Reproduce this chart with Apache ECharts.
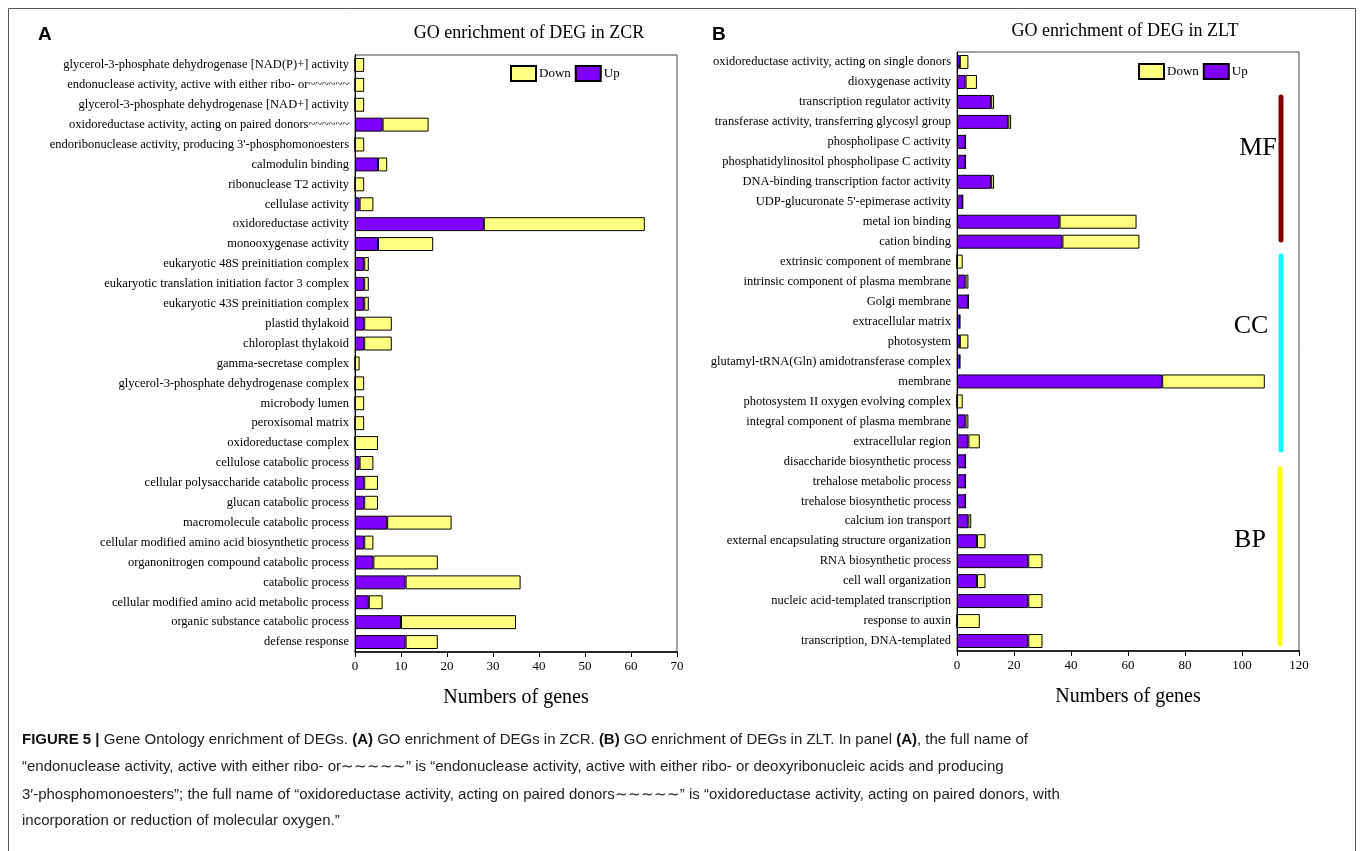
<!DOCTYPE html>
<html>
<head>
<meta charset="utf-8">
<script src="https://cdn.jsdelivr.net/npm/echarts@6/dist/echarts.min.js"></script>
<style>
html,body{margin:0;padding:0;background:#fff;}
#c{width:1360px;height:851px;}
</style>
</head>
<body>
<div id="c"></div>
<script>
// ---- Panel A: GO enrichment of DEG in ZCR ----
const catsA = [
  'glycerol-3-phosphate dehydrogenase [NAD(P)+] activity',
  'endonuclease activity, active with either ribo- or~~~~~~',
  'glycerol-3-phosphate dehydrogenase [NAD+] activity',
  'oxidoreductase activity, acting on paired donors~~~~~~',
  "endoribonuclease activity, producing 3'-phosphomonoesters",
  'calmodulin binding',
  'ribonuclease T2 activity',
  'cellulase activity',
  'oxidoreductase activity',
  'monooxygenase activity',
  'eukaryotic 48S preinitiation complex',
  'eukaryotic translation initiation factor 3 complex',
  'eukaryotic 43S preinitiation complex',
  'plastid thylakoid',
  'chloroplast thylakoid',
  'gamma-secretase complex',
  'glycerol-3-phosphate dehydrogenase complex',
  'microbody lumen',
  'peroxisomal matrix',
  'oxidoreductase complex',
  'cellulose catabolic process',
  'cellular polysaccharide catabolic process',
  'glucan catabolic process',
  'macromolecule catabolic process',
  'cellular modified amino acid biosynthetic process',
  'organonitrogen compound catabolic process',
  'catabolic process',
  'cellular modified amino acid metabolic process',
  'organic substance catabolic process',
  'defense response'
];
const upA   = [0,0,0,6,0,5,0,1,28,5,2,2,2,2,2,0,0,0,0,0,1,2,2,7,2,4,11,3,10,11];
const downA = [2,2,2,10,2,2,2,3,35,12,1,1,1,6,6,1,2,2,2,5,3,3,3,14,2,14,25,3,25,7];

// ---- Panel B: GO enrichment of DEG in ZLT ----
const catsB = [
  'oxidoreductase activity, acting on single donors',
  'dioxygenase activity',
  'transcription regulator activity',
  'transferase activity, transferring glycosyl group',
  'phospholipase C activity',
  'phosphatidylinositol phospholipase C activity',
  'DNA-binding transcription factor activity',
  "UDP-glucuronate 5'-epimerase activity",
  'metal ion binding',
  'cation binding',
  'extrinsic component of membrane',
  'intrinsic component of plasma membrane',
  'Golgi membrane',
  'extracellular matrix',
  'photosystem',
  'glutamyl-tRNA(Gln) amidotransferase complex',
  'membrane',
  'photosystem II oxygen evolving complex',
  'integral component of plasma membrane',
  'extracellular region',
  'disaccharide biosynthetic process',
  'trehalose metabolic process',
  'trehalose biosynthetic process',
  'calcium ion transport',
  'external encapsulating structure organization',
  'RNA biosynthetic process',
  'cell wall organization',
  'nucleic acid-templated transcription',
  'response to auxin',
  'transcription, DNA-templated'
];
const upB   = [1,3,12,18,3,3,12,2,36,37,0,3,4,1,1,1,72,0,3,4,3,3,3,4,7,25,7,25,0,25];
const downB = [3,4,1,1,0,0,1,0,27,27,2,1,0,0,3,0,36,2,1,4,0,0,0,1,3,5,3,5,8,5];

const axisMaxA = 70, axisStepA = 10;
const axisMaxB = 120, axisStepB = 20;
const groupLabels = ['MF', 'CC', 'BP'];

const SERIF = '"Liberation Serif", "Times New Roman", serif';
const SANS = '"Liberation Sans", Arial, sans-serif';
const UP_COLOR = '#8000FF', DOWN_COLOR = '#FFFF80';

const chart = echarts.init(document.getElementById('c'), null, {renderer: 'canvas'});

function yAxis(gi, cats) {
  return {
    type: 'category', gridIndex: gi, data: cats, inverse: true,
    axisLine: {show: true, lineStyle: {color: '#000', width: 1}},
    axisTick: {show: false},
    axisLabel: {interval: 0, color: '#000', fontFamily: SERIF, fontSize: 12.5, margin: 6}
  };
}
function xAxis(gi, max, step) {
  return {
    type: 'value', gridIndex: gi, min: 0, max: max, interval: step,
    name: 'Numbers of genes', nameLocation: 'middle', nameGap: 36,
    nameTextStyle: {fontFamily: SERIF, fontSize: 20, color: '#000'},
    axisLine: {show: true, lineStyle: {color: '#000', width: 1.5}},
    axisTick: {show: true, length: 5, lineStyle: {color: '#000'}},
    axisLabel: {color: '#000', fontFamily: SERIF, fontSize: 13, margin: 8},
    splitLine: {show: false}
  };
}
function bar(name, gi, stack, data, color) {
  return {
    name: name, type: 'bar', stack: stack, xAxisIndex: gi, yAxisIndex: gi,
    data: data, barWidth: '70%',
    itemStyle: {color: color, borderColor: '#000', borderWidth: 1},
    emphasis: {disabled: true}, animation: false
  };
}
function legend(left, top) {
  return {
    data: [{name: 'Down', icon: 'rect'}, {name: 'Up', icon: 'rect'}],
    left: left, top: top, orient: 'horizontal',
    itemWidth: 25, itemHeight: 15, itemGap: 4,
    textStyle: {fontFamily: SERIF, fontSize: 13, color: '#000', padding: [0, 0, 0, -2]},
    selectedMode: false
  };
}

const option = {
  backgroundColor: '#fff',
  animation: false,
  grid: [
    {left: 355, top: 55, width: 322, height: 597, show: true, borderColor: '#444', borderWidth: 1, containLabel: false},
    {left: 957, top: 52, width: 342, height: 599, show: true, borderColor: '#444', borderWidth: 1, containLabel: false}
  ],
  xAxis: [xAxis(0, axisMaxA, axisStepA), xAxis(1, axisMaxB, axisStepB)],
  yAxis: [yAxis(0, catsA), yAxis(1, catsB)],
  legend: [legend(505, 60), legend(1133, 58)],
  series: [
    bar('Up', 0, 'a', upA, UP_COLOR),
    bar('Down', 0, 'a', downA, DOWN_COLOR),
    bar('Up', 1, 'b', upB, UP_COLOR),
    bar('Down', 1, 'b', downB, DOWN_COLOR)
  ],
  graphic: [
    {type: 'rect', shape: {x: 8.5, y: 8.5, width: 1347, height: 860}, style: {fill: 'none', stroke: '#555', lineWidth: 1}, silent: true},
    {type: 'text', x: 38, y: 35, style: {text: 'A', font: 'bold 19px ' + SANS, fill: '#000', verticalAlign: 'middle'}},
    {type: 'text', x: 712, y: 35, style: {text: 'B', font: 'bold 19px ' + SANS, fill: '#000', verticalAlign: 'middle'}},
    {type: 'text', x: 529, y: 33, style: {text: 'GO enrichment of DEG in ZCR', font: '18px ' + SERIF, fill: '#000', align: 'center', verticalAlign: 'middle'}},
    {type: 'text', x: 1125, y: 31, style: {text: 'GO enrichment of DEG in ZLT', font: '18px ' + SERIF, fill: '#000', align: 'center', verticalAlign: 'middle'}},
    {type: 'line', shape: {x1: 1281, y1: 97, x2: 1281, y2: 240}, style: {stroke: '#800000', lineWidth: 5, lineCap: 'round'}},
    {type: 'line', shape: {x1: 1281, y1: 256, x2: 1281, y2: 450}, style: {stroke: '#00FFFF', lineWidth: 5, lineCap: 'round'}},
    {type: 'line', shape: {x1: 1280, y1: 469, x2: 1280, y2: 644}, style: {stroke: '#FFFF00', lineWidth: 5, lineCap: 'round'}},
    {type: 'text', x: 1258, y: 148, style: {text: groupLabels[0], font: '26px ' + SERIF, fill: '#000', align: 'center', verticalAlign: 'middle'}},
    {type: 'text', x: 1251, y: 326, style: {text: groupLabels[1], font: '26px ' + SERIF, fill: '#000', align: 'center', verticalAlign: 'middle'}},
    {type: 'text', x: 1250, y: 540, style: {text: groupLabels[2], font: '26px ' + SERIF, fill: '#000', align: 'center', verticalAlign: 'middle'}},
    {type: 'text', x: 22, y: 740, style: {
      text: '{b|FIGURE 5 |} Gene Ontology enrichment of DEGs. {b|(A)} GO enrichment of DEGs in ZCR. {b|(B)} GO enrichment of DEGs in ZLT. In panel {b|(A)}, the full name of',
      font: '15px ' + SANS, fill: '#222', verticalAlign: 'middle',
      rich: {b: {fontWeight: 'bold', fontSize: 15, fontFamily: SANS, fill: '#111'}}
    }},
    {type: 'text', x: 22, y: 767, style: {
      text: '\u201cendonuclease activity, active with either ribo- or\u223c\u223c\u223c\u223c\u223c\u201d is \u201cendonuclease activity, active with either ribo- or deoxyribonucleic acids and producing',
      font: '15px ' + SANS, fill: '#222', verticalAlign: 'middle'
    }},
    {type: 'text', x: 22, y: 795, style: {
      text: '3\u2032-phosphomonoesters\u201d; the full name of \u201coxidoreductase activity, acting on paired donors\u223c\u223c\u223c\u223c\u223c\u201d is \u201coxidoreductase activity, acting on paired donors, with',
      font: '15px ' + SANS, fill: '#222', verticalAlign: 'middle'
    }},
    {type: 'text', x: 22, y: 821, style: {
      text: 'incorporation or reduction of molecular oxygen.\u201d',
      font: '15px ' + SANS, fill: '#222', verticalAlign: 'middle'
    }}
  ]
};
chart.setOption(option);
</script>
</body>
</html>
